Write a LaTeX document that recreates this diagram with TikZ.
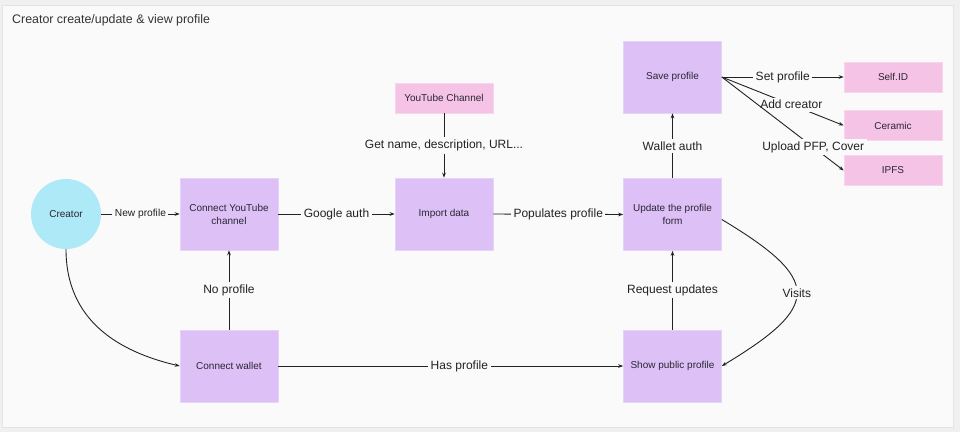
\documentclass[tikz,border=0pt]{standalone}
\usepackage{fontspec}
\setmainfont{Liberation Sans}
\usetikzlibrary{arrows.meta}
\definecolor{outerbg}{HTML}{F0F0F0}
\definecolor{panelbg}{HTML}{FAFAFA}
\definecolor{panelline}{HTML}{E3E3E3}
\definecolor{boxpurple}{HTML}{DCC0F6}
\definecolor{boxpink}{HTML}{F5C3E5}
\definecolor{boxcyan}{HTML}{ADE9F7}
\definecolor{ink}{HTML}{222222}
\definecolor{nodeink}{HTML}{2A2633}
\definecolor{titleink}{HTML}{333333}
\tikzset{
  pbox/.style={fill=boxpurple, draw=boxpurple!70!white, line width=0.6pt, minimum width=98pt, minimum height=72pt, inner sep=0pt, align=center, text=nodeink, font=\fontsize{10}{13}\selectfont},
  kbox/.style={fill=boxpink, draw=boxpink!70!white, line width=0.6pt, minimum width=98pt, minimum height=30pt, inner sep=0pt, align=center, text=nodeink, font=\fontsize{10}{13}\selectfont},
  cbox/.style={circle, fill=boxcyan, minimum size=70pt, inner sep=0pt, text=nodeink, font=\fontsize{10}{13}\selectfont},
  conn/.style={draw=ink, line width=0.9pt, -{Stealth[length=5pt,width=3.6pt]}},
  lbl/.style={fill=panelbg, inner sep=2.5pt, text=ink, font=\fontsize{12}{14}\selectfont},
  smalllbl/.style={lbl, font=\fontsize{10.2}{12}\selectfont},
}
\begin{document}
\begin{tikzpicture}[x=1pt,y=-1pt]
\useasboundingbox (0,0) rectangle (960,432);
\fill[outerbg] (0,0) rectangle (960,432);
\draw[panelline, fill=panelbg, line width=0.8pt] (2,5) rectangle (953,427);
\node[anchor=base west, inner sep=0pt, text=titleink, font=\fontsize{12.4}{14}\selectfont] (title) at (12,23) {Creator create/update \& view profile};

\node[cbox] (creator) at (66,214) {Creator};
\node[pbox] (cyt) at (229,214) {Connect YouTube\\channel};
\node[pbox] (imp) at (444,214) {Import data};
\node[kbox] (ytc) at (444,98) {YouTube Channel};
\node[pbox] (upd) at (672.5,214.5) {Update the profile\\form};
\node[pbox] (save) at (672.5,77) {Save profile};
\node[pbox] (wallet) at (229,366) {Connect wallet};
\node[pbox] (show) at (672.5,366) {Show public profile};
\node[kbox] (selfid) at (893,77) {Self.ID};
\node[kbox] (ceramic) at (893,125.5) {Ceramic};
\node[kbox] (ipfs) at (893,170.5) {IPFS};

\draw[conn] (creator.east) -- node[smalllbl] {New profile} (cyt.west);
\draw[conn] (creator.south) .. controls +(0,72) and +(-60,-14) .. (wallet.west);
\draw[conn] (wallet.north) -- node[lbl] {No profile} (cyt.south);
\draw[conn] (cyt.east) -- node[lbl] {Google auth} (imp.west);
\draw[conn] (ytc.south) -- node[lbl] {Get name, description, URL...} (imp.north);
\draw[conn] (imp.east) -- node[lbl] {Populates profile} (upd.west);
\draw[conn] (upd.north) -- node[lbl] {Wallet auth} (save.south);
\draw[conn] (save.east) -- node[lbl] {Set profile} (selfid.west);
\draw[conn] (save.east) -- node[lbl, pos=0.57] {Add creator} (ceramic.west);
\draw[conn] (save.east) -- node[lbl, pos=0.75] {Upload PFP, Cover} (ipfs.west);
\draw[conn] (wallet.east) -- node[lbl, pos=0.525] {Has profile} (show.west);
\draw[conn] (show.north) -- node[lbl] {Request updates} (upd.south);
\draw[conn] ([yshift=-5pt]upd.east) .. controls +(100,60) and +(100,-60) .. node[lbl, inner sep=2pt] {Visits} (show.east);
\end{tikzpicture}
\end{document}
